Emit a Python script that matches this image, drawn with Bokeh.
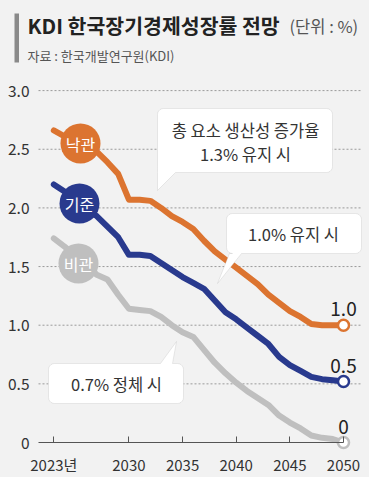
import numpy as np
from bokeh.plotting import figure
from bokeh.models import FixedTicker, Label, PolyAnnotation, BoxAnnotation, ColumnDataSource
from bokeh.embed import file_html
from bokeh.resources import INLINE
from bokeh.core.properties import value

# ---------------- data ----------------
years = list(range(2023, 2051))
optimistic = [2.66, 2.61, 2.57, 2.52, 2.48, 2.39, 2.29, 2.07, 2.07, 2.06, 2.00, 1.93, 1.88, 1.82,
              1.72, 1.63, 1.56, 1.49, 1.42, 1.35, 1.26, 1.19, 1.12, 1.07, 1.01, 1.00, 1.00, 1.00]
baseline = [2.20, 2.14, 2.06, 1.99, 1.93, 1.84, 1.75, 1.60, 1.60, 1.59, 1.53, 1.47, 1.41, 1.36,
            1.31, 1.21, 1.11, 1.05, 0.98, 0.91, 0.84, 0.73, 0.66, 0.61, 0.56, 0.54, 0.53, 0.52]
pessimistic = [1.74, 1.67, 1.59, 1.52, 1.43, 1.39, 1.26, 1.14, 1.13, 1.12, 1.07, 1.00, 0.94, 0.90,
               0.79, 0.68, 0.59, 0.51, 0.44, 0.38, 0.32, 0.23, 0.17, 0.12, 0.06, 0.04, 0.03, 0.00]
series_names = ["낙관", "기준", "비관"]
end_labels = ["1.0", "0.5", "0"]
x_ticks = [2023, 2030, 2035, 2040, 2045, 2050]
x_tick_labels = ["2023년", "2030", "2035", "2040", "2045", "2050"]
y_ticks = [0, 0.5, 1.0, 1.5, 2.0, 2.5, 3.0]
y_tick_labels = ["0", "0.5", "1.0", "1.5", "2.0", "2.5", "3.0"]

title_text = "KDI 한국장기경제성장률 전망"
unit_text = "(단위 : %)"
source_text = "자료 : 한국개발연구원(KDI)"
callout_texts = [["총 요소 생산성 증가율", "1.3% 유지 시"], ["1.0% 유지 시"], ["0.7% 정체 시"]]

# ---------------- styles ----------------
ORANGE = "#dc7430"
BLUE = "#293a8e"
GRAY = "#bfbfbf"
BG = "#f2f2f2"
FONT = "Noto Sans CJK KR"
colors = [ORANGE, BLUE, GRAY]

# page-pixel -> data conversion (layout helpers)
X0PX, XSTEP = 53.3, 10.73
Y0PX, YSTEP = 442.0, 117.3
def dx(px):
    return 2023 + (px - X0PX) / XSTEP
def dy(py):
    return (Y0PX - py) / YSTEP

p = figure(width=369, height=477, output_backend="svg", toolbar_location=None,
           x_range=(dx(0), dx(369)), y_range=(dy(477), dy(0)),
           min_border_left=0, min_border_right=0, min_border_top=0, min_border_bottom=0)
p.background_fill_color = BG
p.border_fill_color = BG
p.outline_line_color = None

# axes
p.xaxis.fixed_location = 0
p.xaxis.bounds = (dx(38), 2050)
p.xaxis.ticker = FixedTicker(ticks=x_ticks)
p.xaxis.major_label_overrides = {t: l for t, l in zip(x_ticks, x_tick_labels)}
p.xaxis.axis_line_color = "#555555"
p.xaxis.axis_line_width = 1.2
p.xaxis.major_tick_in = 6
p.xaxis.major_tick_out = 0
p.xaxis.major_tick_line_color = "#555555"
p.xaxis.minor_tick_line_color = None
p.xaxis.major_label_standoff = 11
p.xaxis.major_label_text_font = FONT
p.xaxis.major_label_text_font_size = "15px"
p.xaxis.major_label_text_color = "#333333"

p.yaxis.fixed_location = dx(38)
p.yaxis.bounds = (0, 3.0)
p.yaxis.ticker = FixedTicker(ticks=y_ticks)
p.yaxis.major_label_overrides = {t: l for t, l in zip(y_ticks, y_tick_labels)}
p.yaxis.axis_line_color = None
p.yaxis.major_tick_line_color = None
p.yaxis.minor_tick_line_color = None
p.yaxis.major_label_standoff = 3
p.yaxis.major_label_text_font = FONT
p.yaxis.major_label_text_font_size = "15.5px"
p.yaxis.major_label_text_color = "#333333"

p.xgrid.visible = False
p.ygrid.visible = False
grid_vals = y_ticks[1:]
p.segment(x0=[dx(38)] * len(grid_vals), x1=[dx(360)] * len(grid_vals), y0=grid_vals, y1=grid_vals,
          line_color="#9a9a9a", line_dash="2 2", line_width=1)

# header
p.add_layout(BoxAnnotation(left=dx(14), right=dx(18.5), top=dy(13), bottom=dy(62),
                           fill_color="#8a8a8a", fill_alpha=1, line_color=None))
p.add_layout(Label(x=dx(27), y=dy(24), text=title_text, text_font=FONT, text_font_style="bold",
                   text_font_size="20.5px", text_color="#222222", text_baseline="middle", text_align="left"))
p.add_layout(Label(x=dx(289), y=dy(25), text=unit_text, text_font=FONT,
                   text_font_size="16.5px", text_color="#555555", text_baseline="middle", text_align="left"))
p.add_layout(Label(x=dx(27), y=dy(55), text=source_text, text_font=FONT,
                   text_font_size="13px", text_color="#555555", text_baseline="middle", text_align="left"))

# lines
for vals, c in zip([pessimistic, baseline, optimistic], [GRAY, BLUE, ORANGE]):
    p.line(years, vals, line_color=c, line_width=6, line_join="round", line_cap="round")

# end markers
ends = [optimistic[-1], baseline[-1], pessimistic[-1]]
p.scatter([years[-1]] * 3, ends, size=11, marker="circle", fill_color="white",
          line_color=colors, line_width=2.5)
p.text([years[-1]] * 3, ends, text=end_labels, text_font=value(FONT), text_font_size="19px",
       text_color="#222222", text_align="center", text_baseline="bottom", y_offset=-9)

# series name bubbles
bubble_px = [(80, 143), (79, 203), (78, 263)]
bsrc = ColumnDataSource(dict(x=[dx(a) for a, b in bubble_px], y=[dy(b) for a, b in bubble_px],
                             c=colors, t=series_names))
p.scatter("x", "y", source=bsrc, size=40, marker="circle", fill_color="c", line_color=None)
p.text("x", "y", text="t", source=bsrc, text_font=value(FONT), text_font_size="16px",
       text_color="white", text_align="center", text_baseline="middle")

# callouts
def arc(cx, cy, r, a0, a1, n=6):
    return [(cx + r * np.cos(a), cy + r * np.sin(a)) for a in np.linspace(a0, a1, n)]

def callout(left, top, right, bottom, radii, tail_edge, t1, apex, t2):
    tl, tr, br, bl = radii
    pts = []
    pts += arc(left + tl, top + tl, tl, np.pi, 1.5 * np.pi)
    if tail_edge == "top":
        pts += [(t1, top), apex, (t2, top)]
    pts += arc(right - tr, top + tr, tr, -0.5 * np.pi, 0)
    pts += arc(right - br, bottom - br, br, 0, 0.5 * np.pi)
    if tail_edge == "bottom":
        pts += [(t2, bottom), apex, (t1, bottom)]
    pts += arc(left + bl, bottom - bl, bl, 0.5 * np.pi, np.pi)
    return [dx(a) for a, b in pts], [dy(b) for a, b in pts]

boxes = [
    callout(157, 108, 332, 172, (6, 6, 6, 0), "bottom", 157, (157, 190), 175),
    callout(226, 213, 361, 253, (6, 6, 6, 6), "bottom", 229, (217, 283), 241),
    callout(48, 363, 183, 403, (6, 6, 6, 6), "top", 160, (176, 341), 172),
]
for xs, ys in boxes:
    p.add_layout(PolyAnnotation(xs=xs, ys=ys, fill_color="white", fill_alpha=1,
                                line_color="#b8b8b8", line_width=1))

text_pos = [[(245, 129), (245, 153)], [(293, 233)], [(116, 383)]]
for lines, poss in zip(callout_texts, text_pos):
    for t, (a, b) in zip(lines, poss):
        p.add_layout(Label(x=dx(a), y=dy(b), text=t, text_font=FONT, text_font_size="16.5px",
                           text_color="#333333", text_align="center", text_baseline="middle"))

html = file_html(p, INLINE)
html = html.replace("</head>", "<style>html, body { background: %s; }</style>\n</head>" % BG, 1)
open("out.html", "w").write(html)
